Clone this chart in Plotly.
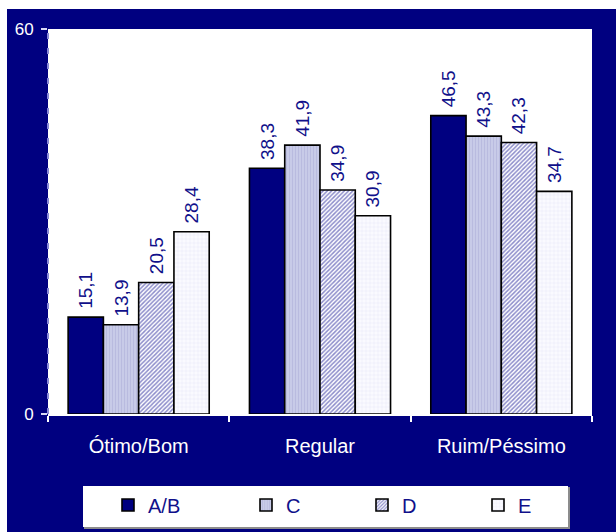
import plotly.graph_objects as go

# Survey results by social class
categories = ["Ótimo/Bom", "Regular", "Ruim/Péssimo"]
series_names = ["A/B", "C", "D", "E"]
values_ab = [15.1, 38.3, 46.5]
values_c = [13.9, 41.9, 43.3]
values_d = [20.5, 34.9, 42.3]
values_e = [28.4, 30.9, 34.7]
y_ticks = [0, 60]

NAVY = "#000080"
LABEL_BLUE = "#10108a"

series_values = [values_ab, values_c, values_d, values_e]

styles = [
    dict(color=NAVY, pattern=None, legendwidth=93),
    dict(color="#c2c5e5",
         pattern=dict(shape="|", fgcolor="#a9acd6", bgcolor="#c8cbe8", size=3, solidity=0.35),
         legendwidth=71),
    dict(color="#5a5ab0",
         pattern=dict(shape="/", fgcolor="#1a1a96", bgcolor="#ffffff", size=3, solidity=0.5),
         legendwidth=71),
    dict(color="#f4f4fc",
         pattern=dict(shape="+", fgcolor="#d4d4ee", bgcolor="#fafaff", size=4, solidity=0.25),
         legendwidth=71),
]


def fmt(v):
    return "\u00a0" + f"{v:.1f}".replace(".", ",")


fig = go.Figure()
for name, vals, st in zip(series_names, series_values, styles):
    marker = dict(color=st["color"], line=dict(color="#000000", width=1.6))
    if st["pattern"] is not None:
        marker["pattern"] = st["pattern"]
    fig.add_trace(go.Bar(
        name=name,
        x=categories,
        y=vals,
        marker=marker,
        text=[fmt(v) for v in vals],
        textposition="outside",
        textangle=-90,
        constraintext="none",
        textfont=dict(family="Arial, Liberation Sans", size=19, color=LABEL_BLUE),
        cliponaxis=False,
        legendwidth=st["legendwidth"],
    ))

shapes = [
    # white strips along the top and left edges of the page
    dict(type="rect", xref="paper", yref="paper", x0=-0.2, x1=1.1, y0=(414 - 9) / 385, y1=1.2,
         fillcolor="#ffffff", line=dict(width=0), layer="below"),
    dict(type="rect", xref="paper", yref="paper", x0=-0.2, x1=(7 - 48) / 544, y0=-0.4, y1=1.2,
         fillcolor="#ffffff", line=dict(width=0), layer="below"),
    # legend box with a grey drop edge
    dict(type="rect", xref="paper", yref="paper",
         x0=(84 - 48) / 544, x1=(570 - 48) / 544, y0=(414 - 529) / 385, y1=(414 - 487) / 385,
         fillcolor="#8c8c8c", line=dict(width=0), layer="below"),
    dict(type="rect", xref="paper", yref="paper",
         x0=(83 - 48) / 544, x1=(568 - 48) / 544, y0=(414 - 527) / 385, y1=(414 - 486) / 385,
         fillcolor="#ffffff", line=dict(width=0), layer="below"),
    # dashed value axis line
    dict(type="line", xref="paper", yref="paper", x0=0, x1=0, y0=0, y1=1,
         line=dict(color="#8a8ad6", width=2, dash="6px,9px"), layer="above"),
]

fig.update_layout(
    width=616,
    height=532,
    margin=dict(l=48, r=24, t=29, b=118, autoexpand=False),
    paper_bgcolor=NAVY,
    plot_bgcolor="#ffffff",
    barmode="group",
    bargap=0.222,
    bargroupgap=0,
    showlegend=True,
    shapes=shapes,
    font=dict(family="Arial, Liberation Sans", color="#ffffff"),
    legend=dict(
        orientation="h",
        xref="container",
        yref="container",
        x=108 / 616,
        xanchor="left",
        y=(532 - 505) / 532,
        yanchor="middle",
        bgcolor="rgba(0,0,0,0)",
        font=dict(family="Arial, Liberation Sans", size=20, color=LABEL_BLUE),
        traceorder="normal",
    ),
    xaxis=dict(
        showline=True,
        linecolor="#ffffff",
        linewidth=2,
        ticks="outside",
        tickson="boundaries",
        ticklen=6,
        tickwidth=2,
        tickcolor="#ffffff",
        ticklabelstandoff=13,
        tickfont=dict(size=20, color="#ffffff"),
        showgrid=False,
        zeroline=False,
    ),
    yaxis=dict(
        range=[0, 60],
        tickvals=y_ticks,
        ticktext=[str(t) for t in y_ticks],
        ticks="outside",
        ticklen=6,
        tickwidth=2,
        tickcolor="#d8d8f4",
        ticklabelstandoff=4,
        tickfont=dict(size=17, color="#ffffff"),
        showgrid=False,
        zeroline=False,
        showline=False,
    ),
)

fig.write_html("out.html")
